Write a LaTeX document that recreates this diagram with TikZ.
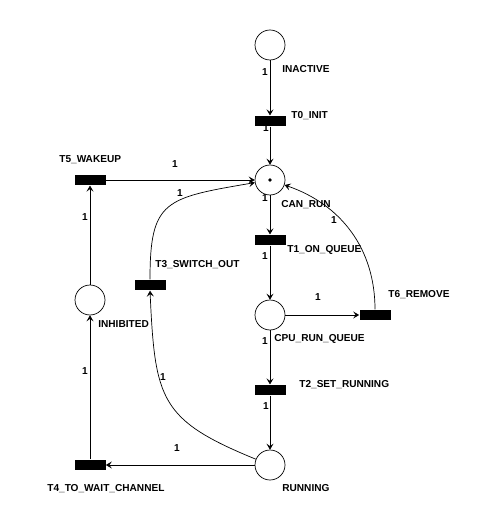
\documentclass[tikz,border=0pt]{standalone}
\usepackage{fontspec}
\setsansfont{Liberation Sans}
\usetikzlibrary{arrows.meta,positioning}

\begin{document}
\begin{tikzpicture}[x=1pt,y=-1pt,>={Stealth[length=6pt,width=7pt,inset=2.5pt]},line width=0.7pt,
    place/.style={circle,draw,line width=0.7pt,minimum size=30pt,inner sep=0pt},
    trans/.style={rectangle,fill=black,minimum width=31pt,minimum height=10.5pt,inner sep=0pt},
    lbl/.style={font=\sffamily\bfseries\fontsize{10.1}{11}\selectfont,text height=7.3pt,text depth=0pt,inner sep=0pt,anchor=west},
    wt/.style={lbl,anchor=center},
  ]
  \useasboundingbox (0,0) rectangle (482,518);
  % places
  \node[place] (inactive) at (270, 45) {};
  \node[place] (canrun)   at (270,180) {};
  \node[place] (cpuq)     at (270,315) {};
  \node[place] (inhib)    at (90,300) {};
  \node[place] (running)  at (270,465) {};
  \fill (canrun) circle (1.8pt);
  % transitions
  \node[trans] (t0) at (270,121) {};
  \node[trans] (t5) at (90,180) {};
  \node[trans] (t1) at (270,240) {};
  \node[trans] (t3) at (150,285) {};
  \node[trans] (t6) at (375,315) {};
  \node[trans] (t2) at (270,390) {};
  \node[trans] (t4) at (90,465) {};
  % labels
  \node[lbl] (linactive) at (282,69)  {INACTIVE};
  \node[lbl] (lt0)       at (291,115) {T0\_INIT};
  \node[lbl] (lt5)       at (59,159)  {T5\_WAKEUP};
  \node[lbl] (lcanrun)   at (281,204) {CAN\_RUN};
  \node[lbl] (lt1)       at (287,249) {T1\_ON\_QUEUE};
  \node[lbl] (lt3)       at (155,264) {T3\_SWITCH\_OUT};
  \node[lbl] (lt6)       at (388,294) {T6\_REMOVE};
  \node[lbl] (linhib)    at (98,324)  {INHIBITED};
  \node[lbl] (lcpuq)     at (274,338) {CPU\_RUN\_QUEUE};
  \node[lbl] (lt2)       at (299,384) {T2\_SET\_RUNNING};
  \node[lbl] (lt4)       at (47,488)  {T4\_TO\_WAIT\_CHANNEL};
  \node[lbl] (lrunning)  at (282,488) {RUNNING};
  % arcs
  \draw[->] (inactive) -- (t0);
  \draw[->] (t0) -- (canrun);
  \draw[->] (t5) -- (canrun);
  \draw[->] (t3.north) .. controls (150,200) and (165,198) .. (canrun);
  \draw[->] (canrun) -- (t1);
  \draw[->] (t1) -- (cpuq);
  \draw[->] (cpuq) -- (t6);
  \draw[->] (t6.north) to[out=90,in=-19] (canrun);
  \draw[->] (cpuq) -- (t2);
  \draw[->] (t2) -- (running);
  \draw[->] (running) -- (t4);
  \draw[->] (running) .. controls (160,420) and (155,400) .. (t3.south);
  \draw[->] (inhib) -- (t5);
  \draw[->] (t4) -- (inhib);
  % weights
  \node[wt] (w1)  at (265,72)  {1};
  \node[wt] (w2)  at (266,128) {1};
  \node[wt] (w3)  at (175,164) {1};
  \node[wt] (w4)  at (180,193) {1};
  \node[wt] (w5)  at (265,198) {1};
  \node[wt] (w6)  at (334,220) {1};
  \node[wt] (w7)  at (85,217)  {1};
  \node[wt] (w8)  at (265,256) {1};
  \node[wt] (w9)  at (318,297) {1};
  \node[wt] (w10) at (265,341) {1};
  \node[wt] (w11) at (85,371)  {1};
  \node[wt] (w12) at (163,377) {1};
  \node[wt] (w13) at (266,406) {1};
  \node[wt] (w14) at (177,448) {1};
\end{tikzpicture}
\end{document}
